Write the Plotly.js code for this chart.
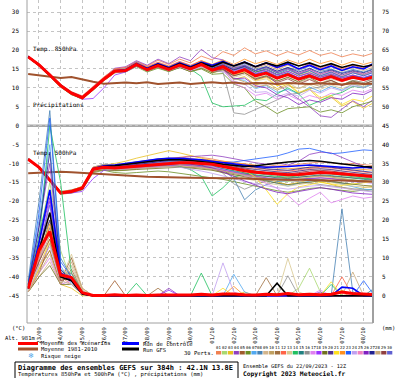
<!DOCTYPE html>
<html><head><meta charset="utf-8">
<script src="https://cdn.plot.ly/plotly-3.0.1.min.js"></script>
<style>html,body{margin:0;padding:0;background:#fff}</style>
</head><body>
<div id="chart" style="width:400px;height:378px"></div>
<script>
// ---- time axis (hours from 22/09 12Z, 12h steps) ----
const hours = [0,12,24,36,48,60,72,84,96,108,120,132,144,156,168,180,192,204,216,228,240,252,264,276,288,300,312,324,336,348,360,372,384];
const dayHours = [12,36,60,84,108,132,156,180,204,228,252,276,300,324,348,372];
const dayLabels = ['23/09','24/09','25/09','26/09','27/09','28/09','29/09','30/09','01/10','02/10','03/10','04/10','05/10','06/10','07/10','08/10'];
const leftTicks = [30,25,20,15,10,5,0,-5,-10,-15,-20,-25,-30,-35,-40,-45];
const rightTicks = [75,70,65,60,55,50,45,40,35,30,25,20,15,10,5,0];
const memberNames = ['01','02','03','04','05','06','07','08','09','10','11','12','13','14','15','16','17','18','19','20','21','22','23','24','25','26','27','28','29','30'];
const memberColors = ['#f08050','#a8d870','#e8c020','#9040c0','#a05a2c','#6b8e23','#50a8f0','#4682b4','#d2b48c','#c0a060','#a07040','#ff6347','#d8c890','#20c060','#208080','#909090','#e080f0','#9932ff','#707020','#503090','#ffe020','#ff9020','#2060ff','#c0a0f0','#f080c0','#8020c0','#202090','#c8a878','#904040','#6060d0'];

// ---- 850 hPa temperature (°C) ----
const t850Mean = [18.2,16.1,13.4,10.6,8.6,7.4,9.8,12.3,14.4,14.6,16.2,14.8,15.9,14.9,16.0,15.0,16.2,14.7,15.6,13.9,14.8,13.2,13.9,12.6,13.5,12.3,13.2,12.1,13.0,12.0,12.8,12.2,13.0];
const t850Clim = [13.7,13.3,13.0,12.6,12.9,12.2,11.6,11.1,11.2,11.4,11.2,11.5,11.0,11.3,11.4,11.0,11.3,11.5,11.2,11.4,11.1,11.3,11.2,11.0,11.3,11.2,11.0,11.2,11.1,10.9,11.2,11.0,11.1];
const t850Control = [18.2,16.1,13.5,10.7,8.7,7.5,9.9,12.4,14.5,14.8,16.5,15.2,16.4,15.4,16.6,15.6,16.8,16.0,17.0,15.8,16.8,15.6,16.6,15.4,16.4,15.0,16.0,14.8,15.8,14.6,15.6,15.0,16.6];
const t850Gfs = [18.2,16.0,13.4,10.6,8.6,7.4,9.8,12.3,14.4,14.6,16.2,15.0,16.2,15.2,16.4,15.4,16.6,15.6,16.8,15.8,16.8,15.6,16.6,15.8,16.8,15.8,16.6,15.6,16.4,15.4,16.2,15.6,16.2];
const t850Perts = [
[18.4,16.4,13.8,11.0,9.0,7.9,10.4,12.9,15.0,15.3,17.0,15.8,17.3,16.2,17.6,16.6,18.4,17.4,19.6,18.6,20.6,19.0,19.8,18.5,19.6,18.7,19.9,18.6,19.3,18.2,19.0,18.4,19.3],
[18.0,15.8,13.1,10.2,8.2,7.0,9.4,12.0,14.6,15.0,16.8,15.2,16.4,15.3,16.5,15.6,16.4,15.3,16.2,14.8,15.5,14.0,15.2,14.0,15.3,13.5,14.3,12.9,14.0,13.0,14.2,13.5,14.6],
[18.1,16.0,13.5,10.9,8.8,7.5,9.6,12.0,14.0,14.3,15.8,14.6,15.4,14.4,16.4,15.2,15.9,14.0,14.8,12.2,13.0,10.8,11.6,9.8,11.0,8.5,9.6,6.8,7.6,5.2,6.4,4.6,6.2],
[18.3,16.2,13.6,10.8,8.7,7.2,9.9,12.6,15.2,15.6,17.2,16.0,17.6,16.4,18.2,17.2,20.2,18.0,17.4,15.2,15.6,13.5,13.8,11.0,9.0,6.8,5.0,2.6,2.2,4.4,6.6,5.0,7.2],
[18.2,16.0,13.3,10.5,8.5,7.5,10.0,12.6,14.8,14.8,16.4,15.0,16.2,15.3,16.4,15.4,16.6,15.4,16.3,14.8,15.6,14.2,14.8,13.4,14.4,13.2,14.0,12.8,13.6,12.6,13.4,12.5,13.4],
[18.0,15.9,13.2,10.3,8.4,7.1,9.4,11.9,14.0,14.2,15.6,14.2,15.2,14.3,15.4,14.3,15.0,13.6,13.8,11.0,10.0,6.5,5.0,3.2,4.5,4.8,5.0,3.6,4.2,3.4,5.0,5.8,6.6],
[18.4,16.3,13.6,10.7,8.6,7.6,10.1,12.7,14.9,15.2,16.9,15.4,16.6,15.6,16.9,15.8,16.6,15.0,15.4,12.4,12.0,9.8,10.6,8.8,9.6,8.4,10.2,9.0,10.4,9.4,11.0,10.2,11.4],
[18.1,16.1,13.5,10.8,8.8,7.6,9.9,12.2,14.3,14.6,16.0,14.7,15.8,14.8,15.8,14.9,16.3,15.6,16.8,15.4,16.4,15.0,15.6,14.4,15.4,14.6,15.8,14.4,15.0,14.0,14.9,14.2,15.2],
[18.3,16.0,13.2,10.4,8.4,7.0,9.6,12.4,14.7,14.8,16.0,14.5,15.5,14.4,15.5,14.3,15.4,14.2,15.0,13.4,14.3,12.6,13.2,11.8,12.8,11.4,12.4,11.2,12.4,11.6,12.6,12.0,13.0],
[18.2,16.2,13.5,10.6,8.6,7.3,9.7,12.2,14.3,14.5,16.1,14.9,16.1,15.0,16.2,15.2,16.4,14.8,15.2,12.6,11.6,10.2,10.8,9.4,10.6,9.8,11.2,10.4,11.6,10.8,12.0,11.4,12.6],
[18.0,15.8,13.0,10.2,8.2,7.2,9.9,12.5,14.5,14.7,16.3,15.0,16.0,15.0,16.0,15.1,16.0,14.6,15.6,14.0,15.0,13.6,14.4,13.0,14.0,12.6,13.6,12.4,13.4,12.2,13.0,12.4,13.2],
[18.5,16.4,13.7,10.9,8.9,7.7,10.2,12.8,15.0,15.4,16.8,15.6,16.8,15.8,17.0,16.0,17.2,16.0,17.0,15.8,16.8,15.4,16.4,15.2,16.2,15.0,16.4,15.2,16.2,15.0,16.0,15.2,16.0],
[18.2,16.1,13.4,10.6,8.6,7.4,9.8,12.1,14.2,14.4,15.8,14.4,15.5,14.5,15.5,14.5,15.6,14.0,14.6,12.8,13.6,11.8,12.4,10.6,11.4,9.8,10.8,9.6,10.8,9.8,11.0,10.4,11.6],
[18.1,16.0,13.4,10.5,8.5,7.3,9.8,12.4,14.6,14.8,16.4,15.0,16.0,15.0,16.0,15.0,13.0,6.0,5.0,5.2,5.4,7.0,6.6,8.4,10.0,8.4,5.4,6.6,8.0,8.8,10.4,10.0,11.2],
[18.3,16.2,13.6,10.8,8.8,7.6,10.0,12.5,14.5,14.9,16.5,15.2,16.4,15.3,16.5,15.4,16.5,15.2,16.2,14.6,15.6,14.2,15.0,13.6,14.8,13.6,14.6,13.2,14.2,13.0,14.0,13.2,14.2],
[18.2,16.1,13.5,10.7,8.7,7.5,9.9,12.3,14.4,14.6,16.2,14.8,15.9,14.9,16.0,15.0,16.0,14.6,14.2,3.4,3.0,4.2,5.6,6.8,8.2,8.6,9.8,10.2,11.2,10.8,12.0,11.4,12.6],
[18.0,15.9,13.3,10.5,8.5,7.2,9.5,12.0,14.1,14.4,15.9,14.5,15.6,14.6,15.7,14.7,15.8,14.4,15.0,11.2,10.0,8.0,8.6,7.0,8.2,6.8,8.0,7.2,8.6,8.0,9.4,8.8,10.0],
[18.4,16.2,13.5,10.6,8.5,7.0,7.2,10.0,13.4,14.2,15.8,14.6,15.8,14.8,16.0,15.0,16.2,15.0,16.0,14.4,15.4,13.8,14.8,13.4,14.4,13.0,14.0,12.8,13.8,12.6,13.4,12.8,13.6],
[18.0,15.8,13.1,10.3,8.3,7.1,9.5,12.1,14.2,14.4,15.9,14.4,15.5,14.4,15.4,14.3,15.2,14.0,14.8,13.2,14.0,12.4,13.2,11.8,12.8,11.6,12.8,11.2,12.0,10.8,11.8,11.0,12.0],
[18.3,16.1,13.4,10.7,8.7,7.5,9.9,12.4,14.6,14.8,16.4,15.1,16.3,15.2,16.4,15.3,16.6,15.8,16.6,15.2,16.0,14.6,15.4,14.0,15.2,13.8,15.0,13.6,14.6,13.4,14.4,13.6,14.6],
[18.1,16.0,13.4,10.6,8.6,7.4,9.8,12.3,14.4,14.6,16.2,14.7,15.8,14.8,15.9,14.9,16.0,14.4,15.4,13.6,14.2,12.0,12.8,10.6,11.2,8.8,9.8,7.4,8.0,5.6,7.0,6.4,8.2],
[18.2,16.2,13.6,10.8,8.8,7.6,10.0,12.6,14.8,15.0,16.6,15.4,16.6,15.6,16.8,15.8,17.2,16.2,17.4,16.2,17.6,16.4,17.2,16.2,17.4,16.4,17.6,16.4,17.2,16.0,17.0,16.2,17.0],
[18.2,16.1,13.4,10.6,8.6,7.4,9.8,12.3,14.4,14.6,16.2,14.8,15.9,14.9,16.0,15.0,16.2,15.0,15.8,14.0,15.2,13.6,14.4,13.0,14.0,12.6,13.6,12.4,13.4,12.2,13.2,12.6,13.6],
[18.3,16.2,13.5,10.7,8.6,7.3,9.6,12.1,14.2,14.4,16.0,14.6,15.6,14.6,15.6,14.6,15.6,14.6,14.4,11.8,11.0,8.8,9.0,7.6,8.6,7.8,9.4,8.6,10.0,9.2,10.6,10.0,11.2],
[18.0,15.9,13.2,10.4,8.4,7.2,9.6,12.2,14.4,14.6,16.2,14.8,15.9,14.9,16.0,15.0,16.2,15.6,16.4,15.0,16.0,14.6,15.4,14.2,15.0,13.8,14.8,13.6,14.4,13.2,14.2,13.6,14.4],
[18.4,16.3,13.6,10.8,8.8,7.6,10.0,12.5,14.6,14.8,16.4,15.0,16.2,15.2,16.2,15.2,16.4,14.8,15.0,12.4,12.6,10.6,10.0,8.2,7.4,5.6,6.8,6.2,7.4,7.0,8.6,8.2,9.6],
[18.2,16.0,13.3,10.5,8.5,7.3,9.7,12.2,14.3,14.6,16.0,14.7,15.8,14.8,15.8,14.8,16.0,15.2,16.0,14.8,15.8,14.6,15.6,14.4,15.4,14.2,15.2,14.0,14.8,13.8,14.6,14.0,15.0],
[18.1,16.0,13.4,10.6,8.6,7.4,9.8,12.3,14.5,14.7,16.3,14.9,16.0,15.0,16.1,15.1,16.3,15.4,16.6,15.4,16.6,15.2,16.0,14.8,16.0,14.8,16.0,14.6,15.6,14.4,15.4,14.6,15.6],
[18.2,16.1,13.4,10.6,8.6,7.4,9.8,12.3,14.4,14.6,16.2,14.8,15.9,14.9,16.0,15.0,16.2,14.4,15.0,13.2,14.0,12.2,13.0,11.4,12.4,11.0,12.2,11.0,12.0,10.6,11.6,11.0,12.0],
[18.3,16.2,13.5,10.7,8.7,7.5,9.9,12.4,14.5,14.7,16.3,14.9,16.0,15.0,16.1,15.1,16.3,15.4,16.4,15.0,16.0,14.6,15.4,14.0,15.0,13.6,14.6,13.2,14.2,12.8,14.0,13.2,14.2]
];

// ---- 500 hPa temperature (°C) ----
const t500Mean = [-8.9,-11.0,-14.4,-17.8,-17.4,-16.5,-11.5,-11.0,-11.2,-11.0,-10.8,-10.5,-10.2,-10.0,-9.8,-9.8,-9.9,-10.2,-10.8,-11.4,-11.9,-12.3,-12.6,-12.8,-13.0,-12.9,-12.6,-12.4,-12.5,-12.8,-13.1,-13.4,-13.5];
const t500Clim = [-12.6,-12.4,-12.3,-12.2,-12.3,-12.5,-12.7,-12.9,-13.0,-13.2,-13.3,-13.5,-13.6,-13.6,-13.7,-13.8,-13.8,-13.9,-13.9,-14.0,-14.0,-14.1,-14.2,-14.2,-14.3,-14.3,-14.4,-14.4,-14.5,-14.5,-14.6,-14.7,-14.8];
const t500Control = [-8.9,-11.0,-14.4,-17.8,-17.4,-16.6,-11.4,-10.6,-10.4,-10.0,-9.6,-9.2,-8.8,-8.6,-8.6,-8.8,-9.0,-9.4,-9.8,-10.2,-10.6,-10.8,-11.0,-11.0,-10.8,-10.6,-10.4,-10.6,-10.8,-11.0,-11.2,-11.0,-11.2];
const t500Gfs = [-8.9,-11.0,-14.4,-17.8,-17.4,-16.6,-11.6,-10.8,-10.6,-10.2,-9.8,-9.4,-9.2,-9.0,-9.0,-9.2,-9.4,-9.8,-10.2,-10.6,-10.8,-10.6,-10.2,-10.0,-9.6,-9.4,-9.2,-9.4,-9.8,-10.2,-10.6,-10.8,-11.0];
const t500Perts = [
[-8.8,-11.2,-14.8,-18.2,-17.8,-16.8,-11.0,-10.2,-10.6,-10.2,-9.8,-9.4,-9.0,-8.6,-8.2,-8.0,-8.4,-8.8,-9.4,-9.8,-10.2,-10.6,-10.8,-10.4,-10.6,-10.2,-9.8,-9.6,-9.8,-10.2,-10.0,-10.4,-10.6],
[-9.0,-10.8,-14.2,-17.6,-17.0,-16.2,-11.8,-11.6,-12.0,-11.8,-11.4,-11.0,-10.6,-10.4,-10.2,-10.4,-10.6,-11.0,-11.6,-12.2,-12.8,-13.4,-13.8,-14.4,-14.8,-14.2,-13.6,-13.2,-13.6,-14.0,-14.4,-14.8,-15.0],
[-8.9,-11.1,-14.6,-17.9,-17.2,-16.0,-11.2,-10.4,-10.0,-9.4,-8.6,-8.0,-7.4,-6.6,-7.2,-8.0,-8.6,-9.2,-10.4,-11.6,-12.6,-13.4,-14.2,-14.8,-15.6,-15.0,-14.4,-14.8,-15.6,-16.4,-17.0,-16.4,-16.0],
[-8.8,-10.9,-14.2,-17.6,-17.4,-16.6,-11.6,-11.2,-11.0,-10.6,-10.2,-9.6,-9.2,-8.8,-8.4,-8.2,-8.0,-7.8,-8.2,-8.8,-9.4,-9.8,-10.2,-9.8,-10.4,-9.4,-7.6,-7.0,-7.2,-8.4,-9.8,-10.8,-11.6],
[-8.9,-11.0,-14.4,-17.9,-17.6,-16.8,-12.0,-11.4,-11.6,-11.4,-11.2,-11.0,-10.8,-10.6,-10.4,-10.6,-10.8,-11.2,-11.8,-12.4,-12.8,-13.2,-13.4,-13.6,-13.8,-13.6,-13.4,-13.2,-13.4,-13.6,-13.8,-14.0,-14.2],
[-9.0,-11.2,-14.6,-18.0,-17.8,-17.0,-12.4,-11.8,-12.4,-12.6,-12.4,-12.2,-12.0,-12.2,-12.6,-13.0,-13.4,-13.8,-14.2,-14.8,-15.4,-16.0,-16.6,-17.2,-17.6,-17.2,-16.6,-16.4,-16.8,-17.2,-17.4,-17.0,-16.8],
[-8.8,-10.8,-14.0,-17.4,-17.0,-16.2,-11.0,-10.2,-10.4,-10.0,-9.6,-9.2,-8.8,-8.6,-8.8,-9.2,-9.8,-10.6,-11.4,-12.2,-13.0,-13.8,-14.6,-15.4,-16.0,-15.2,-14.6,-14.2,-14.8,-15.4,-16.2,-16.8,-17.0],
[-8.9,-11.0,-14.4,-17.8,-17.4,-16.5,-11.4,-10.8,-11.0,-10.8,-10.4,-10.0,-9.6,-9.4,-9.2,-9.4,-9.8,-10.4,-11.6,-14.0,-19.6,-17.0,-15.6,-14.8,-14.6,-14.2,-14.0,-14.2,-14.6,-15.2,-15.6,-15.0,-14.6],
[-8.9,-11.1,-14.5,-17.9,-17.5,-16.6,-11.6,-11.0,-11.2,-11.0,-10.8,-10.6,-10.2,-10.0,-9.8,-9.6,-9.8,-10.0,-10.4,-10.8,-11.2,-11.6,-12.0,-12.2,-12.4,-12.0,-11.6,-11.4,-11.6,-12.0,-12.4,-12.8,-13.0],
[-9.0,-11.0,-14.2,-17.6,-17.2,-16.4,-11.2,-10.6,-10.8,-10.6,-10.2,-9.8,-9.6,-9.2,-9.0,-9.2,-9.4,-9.8,-10.2,-10.8,-11.4,-12.0,-12.6,-13.0,-13.4,-13.2,-12.8,-12.4,-12.6,-12.8,-13.2,-13.6,-14.0],
[-8.8,-11.0,-14.4,-17.8,-17.6,-16.8,-12.2,-11.6,-11.8,-11.6,-11.4,-11.2,-11.0,-10.8,-10.8,-11.0,-11.2,-11.6,-12.2,-12.8,-13.2,-13.6,-14.0,-14.2,-14.4,-14.2,-14.0,-13.8,-14.0,-14.2,-14.4,-14.6,-14.8],
[-8.9,-10.9,-14.2,-17.6,-17.2,-16.4,-11.4,-10.8,-10.6,-10.2,-9.8,-9.4,-9.0,-8.8,-8.6,-8.8,-9.0,-9.2,-9.8,-10.4,-10.8,-11.2,-11.6,-11.8,-12.0,-11.6,-11.2,-11.0,-11.2,-11.6,-12.0,-12.4,-12.6],
[-9.0,-11.2,-14.6,-18.0,-17.6,-16.6,-11.8,-11.4,-11.6,-11.6,-11.4,-11.2,-10.8,-10.6,-10.4,-10.6,-11.0,-11.6,-12.4,-13.2,-14.0,-14.6,-15.2,-15.6,-16.0,-15.6,-15.0,-14.6,-15.0,-15.6,-16.0,-16.2,-16.4],
[-8.9,-11.0,-14.4,-17.8,-17.4,-16.6,-11.6,-11.0,-11.2,-11.0,-10.8,-10.6,-10.4,-10.4,-10.8,-11.6,-13.4,-18.6,-16.4,-13.6,-12.8,-12.6,-13.0,-13.4,-13.6,-13.2,-12.8,-12.6,-12.8,-13.2,-13.6,-14.0,-14.2],
[-8.8,-11.1,-14.6,-18.0,-17.6,-16.8,-11.8,-11.2,-11.4,-11.2,-11.0,-10.8,-10.4,-10.2,-10.0,-10.2,-10.4,-10.8,-11.4,-12.0,-12.6,-13.0,-13.4,-13.8,-14.0,-13.6,-13.2,-13.0,-13.2,-13.6,-14.0,-14.2,-14.4],
[-8.9,-11.0,-14.4,-17.8,-17.4,-16.6,-11.6,-11.0,-11.2,-11.0,-10.6,-10.2,-9.8,-9.6,-9.6,-9.8,-10.2,-10.8,-12.6,-15.4,-16.8,-15.6,-14.6,-14.2,-14.4,-14.8,-15.2,-15.6,-16.0,-16.4,-16.8,-17.2,-17.4],
[-9.0,-11.0,-14.4,-17.8,-17.4,-16.4,-11.4,-10.8,-11.0,-10.8,-10.4,-10.0,-9.8,-9.6,-9.6,-9.8,-10.2,-10.8,-11.6,-12.4,-13.2,-14.0,-15.2,-16.6,-18.4,-21.0,-19.2,-17.6,-20.4,-19.4,-18.6,-19.2,-18.8],
[-8.9,-11.1,-14.6,-18.0,-17.8,-17.4,-14.0,-11.8,-11.6,-11.4,-11.2,-11.0,-10.8,-10.6,-10.4,-10.6,-10.8,-11.2,-11.8,-12.4,-13.0,-13.4,-13.8,-14.2,-14.4,-14.2,-14.0,-13.8,-14.0,-14.4,-14.8,-15.0,-15.2],
[-9.0,-11.2,-14.6,-18.0,-17.6,-16.8,-12.0,-11.6,-11.8,-11.8,-11.6,-11.4,-11.2,-11.0,-11.0,-11.2,-11.4,-11.8,-12.4,-13.0,-13.6,-14.2,-14.8,-15.2,-15.6,-15.2,-14.8,-14.6,-14.8,-15.2,-15.6,-15.8,-16.0],
[-8.8,-10.9,-14.2,-17.6,-17.2,-16.4,-11.4,-10.8,-10.8,-10.4,-10.0,-9.6,-9.2,-9.0,-8.8,-9.0,-9.2,-9.6,-10.2,-10.8,-11.2,-11.6,-12.0,-12.2,-12.4,-12.0,-11.6,-11.4,-11.6,-12.0,-12.4,-12.8,-13.0],
[-8.9,-11.0,-14.4,-17.8,-17.4,-16.6,-11.6,-11.2,-11.2,-10.8,-10.4,-10.0,-9.6,-9.4,-9.4,-9.6,-9.8,-10.0,-10.4,-11.0,-11.8,-13.6,-17.0,-20.8,-18.0,-16.2,-15.6,-15.0,-15.4,-15.8,-15.4,-15.0,-14.8],
[-8.8,-10.8,-14.0,-17.4,-17.0,-16.2,-11.0,-10.4,-10.4,-10.0,-9.6,-9.2,-8.8,-8.6,-8.6,-8.8,-9.0,-9.2,-9.4,-9.8,-10.2,-10.6,-11.0,-11.2,-11.4,-11.2,-11.0,-10.8,-11.0,-11.2,-11.4,-11.6,-11.8],
[-8.9,-11.0,-14.4,-17.8,-17.4,-16.6,-11.6,-11.0,-11.0,-10.8,-10.4,-10.0,-9.6,-9.4,-9.2,-9.2,-9.4,-9.6,-9.8,-9.6,-9.2,-8.8,-8.4,-8.0,-7.2,-6.2,-6.0,-6.8,-7.4,-7.2,-6.8,-6.4,-6.6],
[-9.0,-11.1,-14.5,-17.9,-17.5,-16.6,-11.8,-11.4,-11.6,-11.4,-11.2,-11.0,-10.8,-10.8,-11.0,-11.4,-12.0,-12.6,-13.2,-14.0,-14.8,-15.4,-16.0,-16.4,-16.8,-16.4,-16.0,-15.8,-16.2,-16.6,-17.0,-17.4,-17.6],
[-8.8,-11.0,-14.4,-17.8,-17.4,-16.6,-11.4,-10.8,-10.8,-10.6,-10.2,-9.8,-9.4,-9.2,-9.0,-9.2,-9.4,-9.8,-10.4,-11.0,-11.6,-12.0,-12.4,-12.6,-12.8,-12.4,-12.0,-11.8,-12.0,-12.4,-12.8,-13.2,-13.4],
[-8.9,-11.1,-14.6,-18.0,-17.6,-16.8,-11.8,-11.2,-11.4,-11.2,-11.0,-10.8,-10.4,-10.2,-10.0,-10.2,-10.6,-11.2,-12.2,-13.4,-14.6,-15.8,-16.8,-17.6,-18.0,-17.4,-16.8,-16.4,-16.8,-17.4,-17.8,-18.0,-18.2],
[-8.9,-11.0,-14.4,-17.8,-17.4,-16.6,-11.6,-11.0,-11.0,-10.6,-10.2,-9.8,-9.4,-9.2,-9.0,-9.0,-9.2,-9.4,-9.8,-10.2,-10.6,-11.0,-11.4,-11.6,-11.8,-11.4,-11.0,-10.8,-11.0,-11.4,-11.8,-12.2,-12.4],
[-9.0,-11.2,-14.6,-18.0,-17.6,-16.8,-12.0,-11.4,-11.6,-11.4,-11.2,-11.0,-10.8,-10.6,-10.6,-10.8,-11.0,-11.4,-12.0,-12.6,-13.2,-13.6,-14.0,-14.2,-14.4,-14.0,-13.6,-13.4,-13.6,-14.0,-14.4,-14.6,-14.8],
[-8.8,-10.9,-14.2,-17.6,-17.2,-16.4,-11.2,-10.6,-10.6,-10.2,-9.8,-9.4,-9.0,-8.8,-8.8,-9.0,-9.4,-9.8,-10.4,-11.0,-11.6,-12.0,-12.4,-12.6,-12.8,-12.4,-12.0,-11.8,-12.0,-12.4,-12.8,-13.0,-13.2],
[-8.9,-11.0,-14.4,-17.8,-17.4,-16.6,-11.6,-11.0,-11.2,-11.0,-10.6,-10.2,-9.8,-9.6,-9.4,-9.6,-9.8,-10.2,-10.8,-11.4,-12.0,-12.4,-12.8,-13.0,-13.2,-12.8,-12.4,-12.2,-12.4,-12.8,-13.2,-13.6,-13.8]
];

// ---- precipitation (mm) ----
const precipMean = [1.9,12,17,5.5,4.8,0.8,0.1,0.1,0.3,0.1,0.2,0.1,0.2,0.2,0.2,0.2,0.4,0.2,0.5,0.5,0.3,0.2,0.4,0.3,0.6,0.3,0.4,0.3,0.4,1.0,0.6,0.4,0.3];
const precipControl = [2,14,28,6,4,0.5,0,0,0,0,0,0,0,0,0,0,0,0,0,0,0,0,0,0,0,0,0,0,0,2.3,2,0,0];
const precipGfs = [2,12,22,5,4,0.5,0,0,0,0,0,0,0,0,0,0,0,0,0,0,0,0,0,3.3,0,0,0,0,0,0,0,0,0];
const precipPerts = [
[2,12,18,5,3,0.5,0,0,0,0,0,0,0,0,0,0,0,0,0,0,0,0,0,0,0,0,0.5,0,0,0,0.8,0,0],
[3,15,30,12,4,1,0,0,0,0,0,0,0,0,0,0,0,0,0,0,0.5,0,0,0,0,2,7.3,1,0,0,0,0,0],
[1,8,12,3,2,0,0,0,0,0,0,0,0,0,0,0,0,0,0,0,1,0,0,0,0,0,0,0,0,1.5,0,0,0],
[2,18,35,6,4,0.5,0,0,0,0,0,0,0,2,0,0,0,0,0,0,0,0,0,0,0,0,0,1,0,0,0,0.5,0],
[1,6,14,4,10,2,0,0,4,0,0,0,0,0,0,0,0,0,0,0,0,0,0,0,0,0,0,0,0,0,0,0,0],
[2,10,20,6,6,1,0,0,0,0,0,0,0,0,0,0,0,0,0,0,0,0,0,0,0,0,0,0,0,0,0,0,0],
[3,20,40,8,3,0.5,0,0,0,0,0,0,0,0,0,0,0,0,0,5.7,1,0,0,0,0,0,0,0,0,0,0,0,0],
[4,25,49,10,5,1,0,0,0,0,0,0,0,0,0,0,0,0,0,0,0,0,0,0,0,0,0,0,0,23,1,0,0],
[1,5,9,3,8,1,0,0,0,0,0,0,0,0,0,0,0,0,0,0,0,0,0,0,0,0,0,0,0,0,0,0,0],
[2,9,16,4,5,0.5,0,0,0,0,0,0,0,0,0,0,0,0,0,0,0,0,0,0,0,0,0,0,0,0,0,0,0],
[1,7,12,3,7,1,0,0,0,0,0,0,2,0,0,0,0,0,0,0,0,0,4.8,0,0,0,0,0,0,0,0,0,0],
[2,11,22,5,4,0.5,0,0,0,0,0,0,0,0,0,0,0,0,0,0,0,0,0,0,0,0,0,0,0,5,0,0,0],
[1,8,14,4,11,2,0,0,0,0,0,0,0,0,0,0,0,0,0,0,0,0,0,0,9.9,1,0,0,0,0,0,0,0],
[2,14,45,30,6,1,0,0,0,0,3.3,0,0,0,0,0,6,0,0,0,0,0,0,0,0,0,0,0,3,0,0,0,0],
[3,16,28,7,4,0.5,0,0,0,0,0,0,0,0,0,0,0,0,0,0,0,0,0,0,0,0,0,0,0,0,0,0,2],
[2,9,18,5,6,1,0,0,0,0,0,0,0,0,0,0,0,0,0,0,0,0,0,0,5.3,0,0,0,0,0,0,0,0],
[1,6,10,3,4,0.5,0,0,0,0,0,0,0,0,0,0,0,0,0,0,0,0,0,0,0,0,0,1.5,0,0,0,0,0],
[2,12,25,6,5,1,0,0,0,0,0,0,0,1.5,0,0,0,0,0,0,0,0,0,0,0,0,0,0,0,0,0,0,0],
[1,5,8,3,3,0.5,0,0,0,0,0,0,0,0,0,0,0,0,0,0,0,0,0,0,0,0,0,0,0,0,0,0,0],
[2,13,20,5,4,0.5,0,0,0,0,0,0,0,0,0,0,0,0,0,0,0,0,0,0,0,0,0,0,0,0,0,0,0],
[1,7,15,4,3,0.5,0,0,0,0,0,0,0,0,0,0,0,0,2,0,0,0,0,0,0,0,0,0,3.7,0,0,0,0],
[2,10,19,5,4,0.5,0,0,0,0,0,0,0,0,0,0,0,0,0,2.5,0,0,0,0,0,0,0,0,0,0,0,0,0],
[3,22,47,9,5,1,0,0,0,0,0,0,0,0,0,0,0,0,0,0,0,0,0,0,0,0,0,0,0,0,0,4,0],
[1,8,13,4,3,0.5,0,0,0,0,0,0,0,0,0,0,0,0,8.7,1,0,0,0,0,0,0,0,0,0,0,0,0,0],
[2,10,17,5,4,0.5,0,0,0,0,0,0,0,0,0,0,0,0,0,0,0,0,0,0,0,0,0,0,0,1,0,0,0],
[2,14,26,6,5,1,0,0,0,0,0,0,0,0,0,0,0,0,0,0,0,0,0,0,0,0,0,0,0,0,0,0,0],
[3,18,38,7,4,0.5,0,0,0,0,0,0,0,0,0,0,0,0,0,0,0,0,0,0,0,0,0,0,0,0,0,0,0],
[1,6,11,3,9,1.5,0,0,0,0,0,0,0,0,0,0,0,0,0,0,0,0,0,0,0,0,0,0,0,0,6.3,0,0],
[2,9,15,4,5,0.5,0,0,0,0,0,0,0,0,0,0,0,0,0,0,0,0,0,0,0,0,0,0,0,0,0,0,0],
[2,12,24,6,4,0.5,0,0,0,0,0,0,0,0,0,0,0,0,0,0,0,0,0,0,0,0,0,0,0,0,0,0,0]
];

// ---- build ----
const W = 400, H = 378, ML = 27, MR = 27, MT = 0, MB = 55;
const PW = W - ML - MR, PH = H - MT - MB;
const px = x => (x - ML) / PW;
const py = y => (H - MB - y) / PH;
const MONO = 'DejaVu Sans Mono, Liberation Mono, monospace';

const traces = [];
function line(y, color, width, axis) {
  traces.push({type:'scatter', mode:'lines', x:hours, y:y, yaxis:axis||'y',
    line:{color:color, width:width}, hoverinfo:'skip', showlegend:false});
}
t850Perts.forEach((s,i) => line(s, memberColors[i], 0.8));
t500Perts.forEach((s,i) => line(s, memberColors[i], 0.8));
line(t850Clim, '#a0522d', 2); line(t500Clim, '#a0522d', 2);
line(t850Control, '#0000ff', 1.6); line(t500Control, '#0000ff', 1.6);
line(t850Gfs, '#000000', 1.6); line(t500Gfs, '#000000', 1.6);
line(t850Mean, '#ff0000', 3); line(t500Mean, '#ff0000', 3);
precipPerts.forEach((s,i) => line(s, memberColors[i], 0.8, 'y2'));
line(precipControl, '#0000ff', 1.6, 'y2');
line(precipGfs, '#000000', 1.6, 'y2');
line(precipMean, '#ff0000', 3, 'y2');

const shapes = [
  {type:'line', xref:'paper', yref:'y', x0:0, x1:1, y0:0, y1:0, line:{color:'#a8a8a8', width:2.5}, layer:'below'},
  {type:'line', xref:'paper', yref:'paper', x0:0, x1:0, y0:0, y1:1, line:{color:'#a0a0a0', width:1}},
  {type:'line', xref:'paper', yref:'paper', x0:1, x1:1, y0:0, y1:1, line:{color:'#a0a0a0', width:2}},
  {type:'line', xref:'paper', yref:'paper', x0:0, x1:1, y0:0, y1:0, line:{color:'#a0a0a0', width:1}},
  // legend lines
  {type:'line', xref:'paper', yref:'paper', x0:px(18), x1:px(38), y0:py(343.5), y1:py(343.5), line:{color:'#ff0000', width:3}},
  {type:'line', xref:'paper', yref:'paper', x0:px(18), x1:px(38), y0:py(349), y1:py(349), line:{color:'#a0522d', width:3}},
  {type:'line', xref:'paper', yref:'paper', x0:px(122), x1:px(139), y0:py(343.5), y1:py(343.5), line:{color:'#0000ff', width:3}},
  {type:'line', xref:'paper', yref:'paper', x0:px(122), x1:px(139), y0:py(349), y1:py(349), line:{color:'#000000', width:3}},
  // title box
  {type:'rect', xref:'paper', yref:'paper', x0:px(15), x1:px(238), y0:py(380), y1:py(362), line:{color:'#000', width:1}, fillcolor:'rgba(0,0,0,0)'}
];
const annotations = [];
function txt(x, y, t, size, opts) {
  annotations.push(Object.assign({xref:'paper', yref:'paper', x:px(x), y:py(y), text:t, showarrow:false,
    xanchor:'left', yanchor:'middle', font:{family:MONO, size:size, color:'#000'}, borderpad:0}, opts||{}));
}
memberNames.forEach((n,i) => {
  const x0 = 216 + 5.9*i;
  shapes.push({type:'rect', xref:'paper', yref:'paper', x0:px(x0), x1:px(x0+5.2), y0:py(354.5), y1:py(351),
    line:{width:0}, fillcolor:memberColors[i]});
  txt(x0+2.6, 347.3, n, 4, {xanchor:'center'});
});
// in-plot labels
annotations.push({xref:'x', yref:'y', x:4, y:20.3, text:'Temp. 850hPa', showarrow:false, xanchor:'left', yanchor:'middle', font:{family:MONO, size:6, color:'#000'}, borderpad:0});
annotations.push({xref:'x', yref:'y', x:4, y:5.6, text:'Précipitations', showarrow:false, xanchor:'left', yanchor:'middle', font:{family:MONO, size:6, color:'#000'}, borderpad:0});
annotations.push({xref:'x', yref:'y', x:4, y:-7.1, text:'Temp. 500hPa', showarrow:false, xanchor:'left', yanchor:'middle', font:{family:MONO, size:6, color:'#000'}, borderpad:0});
txt(11, 328, '(°C)', 5.5);
txt(4, 337.5, 'Alt. 981m', 5.5);
txt(381, 328, '(mm)', 5.5);
txt(40, 343.5, 'Moyenne des scénarios', 5.5);
txt(40, 349.5, 'Moyenne 1981-2010', 5.5);
txt(27, 356, '❄', 7, {font:{family:'DejaVu Sans', size:7, color:'#4aa0e8'}});
txt(40, 356, 'Risque neige', 5.5);
txt(142, 343.5, 'Run de contrôle', 5.5);
txt(142, 349.5, 'Run GFS', 5.5);
txt(183, 352.5, '30 Perts.', 5.5);
txt(17, 367.5, '<b>Diagramme des ensembles GEFS sur 384h : 42.1N 13.8E</b>', 7);
txt(17, 374.5, 'Températures 850hPa et 500hPa (°C) , précipitations (mm)', 5.5);
txt(242, 365.5, 'Ensemble GEFS du 22/09/2023 - 12Z', 5.2);
txt(242, 374, '<b>Copyright 2023 Meteociel.fr</b>', 6.3);

const layout = {
  width:W, height:H, margin:{l:ML, r:MR, t:MT, b:MB, pad:0},
  paper_bgcolor:'#fff', plot_bgcolor:'#fff', showlegend:false,
  xaxis:{range:[-1.3,382.4], tickmode:'array', tickvals:dayHours, ticktext:dayLabels, tickangle:-90,
    tickfont:{family:MONO, size:5.5, color:'#000'}, showgrid:true, gridcolor:'#c4c4c4', griddash:'dot', gridwidth:1,
    zeroline:false, showline:false, ticks:'', ticklabelstandoff:2, fixedrange:true},
  yaxis:{range:[-52.2,33.25], tickmode:'array', tickvals:leftTicks, ticktext:leftTicks.map(String),
    tickfont:{family:MONO, size:6, color:'#000'}, showgrid:true, gridcolor:'#c4c4c4', griddash:'dot', gridwidth:1,
    zeroline:false, showline:false, ticks:'', ticklabelstandoff:7, fixedrange:true},
  yaxis2:{overlaying:'y', side:'right', range:[-7.2,78.25], tickmode:'array', tickvals:rightTicks, ticktext:rightTicks.map(String),
    tickfont:{family:MONO, size:6, color:'#000'}, showgrid:false, zeroline:false, showline:false, ticks:'', ticklabelstandoff:8, fixedrange:true},
  shapes:shapes, annotations:annotations
};
Plotly.newPlot('chart', traces, layout, {displayModeBar:false, staticPlot:true});
</script>
</body></html>
